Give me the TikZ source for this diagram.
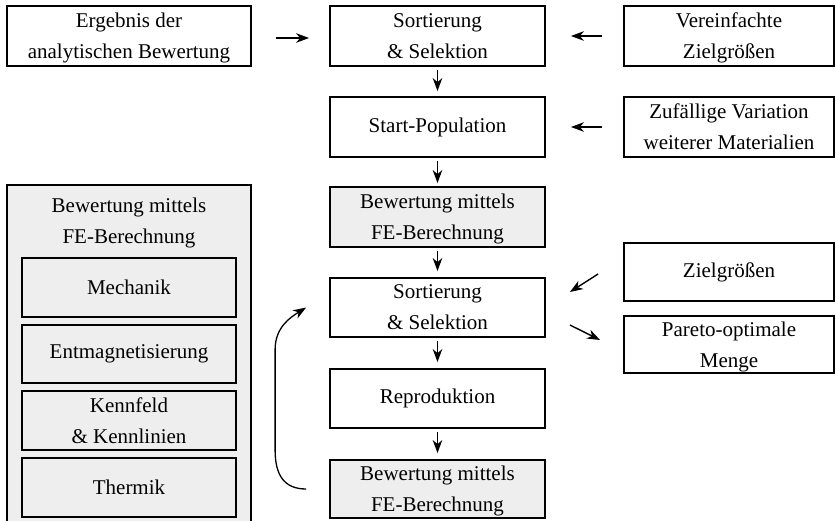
\documentclass[tikz,border=0pt]{standalone}
\usepackage{fontspec}
\setmainfont{Liberation Serif}
\usetikzlibrary{arrows.meta,calc}
\begin{document}
\begin{tikzpicture}[x=1pt,y=-1pt,
  box/.style={draw=black,line width=1.8pt,rectangle,align=center,inner sep=0pt,
    font=\fontsize{21}{31}\selectfont,minimum height=60pt},
  two/.style={text depth=-1.3pt},
  mid/.style={box,fill=white,minimum width=215pt},
  rgt/.style={box,fill=white,minimum width=210pt},
  shd/.style={box,fill=gray!13,minimum width=215pt},
  inner/.style={box,fill=gray!13,minimum width=214pt,minimum height=59pt},
  txt/.style={align=center,inner sep=0pt,font=\fontsize{21}{31}\selectfont},
  arr/.style={line width=1.4pt,-{Stealth[length=13pt,width=9.5pt,inset=4pt]}}]
\useasboundingbox (0,0) rectangle (836,520);
% left column
\node[box,two,fill=white,minimum width=244pt] (erg) at (129,36) {Ergebnis der\\analytischen Bewertung};
\node[box,fill=gray!13,minimum width=244pt,minimum height=339pt] (big) at (129,354.5) {};
\node[txt,two] (bigt) at (129,220.5) {Bewertung mittels\\FE-Berechnung};
\node[inner] (mech) at (129,287.5) {Mechanik};
\node[inner,minimum height=58pt] (ent) at (129,354) {Entmagnetisierung};
\node[inner,two] (kenn) at (129,420.5) {Kennfeld\\\& Kennlinien};
\node[inner] (therm) at (129,487.5) {Thermik};
% middle column
\node[mid,two] (sort1) at (437.5,36) {Sortierung\\\& Selektion};
\node[mid] (start) at (437.5,127) {Start-Population};
\node[shd,two] (bew1) at (437.5,217) {Bewertung mittels\\FE-Berechnung};
\node[mid,two,minimum height=59pt] (sort2) at (437.5,307.5) {Sortierung\\\& Selektion};
\node[mid,minimum height=59pt] (repro) at (437.5,398.5) {Reproduktion};
\node[shd,two,minimum height=58pt] (bew2) at (437.5,489) {Bewertung mittels\\FE-Berechnung};
% right column
\node[rgt,two] (ver) at (729,36) {Vereinfachte\\Zielgrößen};
\node[rgt,two] (zuf) at (729,127) {Zufällige Variation\\weiterer Materialien};
\node[rgt,minimum height=58pt] (ziel) at (729,272) {Zielgrößen};
\node[rgt,two,minimum height=57pt] (par) at (729,344.5) {Pareto-optimale\\Menge};
% horizontal arrows
\draw[arr] ($(erg.east)+(24,2)$) -- ($(sort1.west)+(-20,2)$);
\draw[arr] ($(ver.west)+(-21,0)$) -- ($(sort1.east)+(25,0)$);
\draw[arr] ($(zuf.west)+(-21,0)$) -- ($(start.east)+(25,0)$);
\draw[arr] ($(ziel.west)+(-25,2)$) -- ($(sort2.east)+(24,-15.5)$);
\draw[arr] ($(sort2.east)+(24,17.5)$) -- ($(par.west)+(-23,-4.5)$);
% vertical arrows
\draw[arr] ($(sort1.south)+(0,3)$) -- ($(start.north)+(0,-5)$);
\draw[arr] ($(start.south)+(0,3)$) -- ($(bew1.north)+(0,-3)$);
\draw[arr] ($(bew1.south)+(0,3)$) -- ($(sort2.north)+(0,-6)$);
\draw[arr] ($(sort2.south)+(0,3)$) -- ($(repro.north)+(0,-6)$);
\draw[arr] ($(repro.south)+(0,3)$) -- ($(bew2.north)+(0,-6)$);
% feedback curve
\coordinate (cs) at ($(bew2.west)+(-23,0)$);
\coordinate (ce) at ($(sort2.west)+(-23,0)$);
\draw[arr,line width=1.3pt] (cs) .. controls ($(cs)+(-22,0)$) and ($(cs)+(-31,-14)$) .. ($(cs)+(-31,-39)$)
  -- ($(ce)+(-31,42)$) .. controls ($(ce)+(-31,20)$) and ($(ce)+(-16,10)$) .. (ce);
\end{tikzpicture}
\end{document}
